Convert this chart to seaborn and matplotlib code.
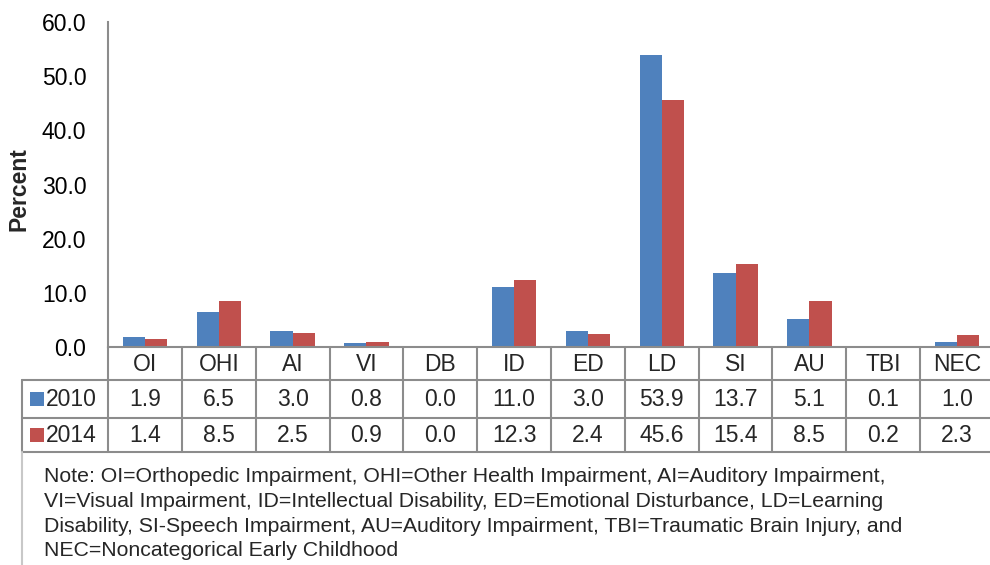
import matplotlib
matplotlib.use("Agg")
import matplotlib.pyplot as plt
from matplotlib.lines import Line2D
from matplotlib.patches import Rectangle
from matplotlib.transforms import blended_transform_factory
import pandas as pd
import seaborn as sns

# ---- data -------------------------------------------------------------
categories = ["OI", "OHI", "AI", "VI", "DB", "ID", "ED", "LD", "SI", "AU", "TBI", "NEC"]
years = ["2010", "2014"]
values_2010 = [1.9, 6.5, 3.0, 0.8, 0.0, 11.0, 3.0, 53.9, 13.7, 5.1, 0.1, 1.0]
values_2014 = [1.4, 8.5, 2.5, 0.9, 0.0, 12.3, 2.4, 45.6, 15.4, 8.5, 0.2, 2.3]
y_ticks = [0, 10, 20, 30, 40, 50, 60]
y_label = "Percent"
note_lines = [
    "Note: OI=Orthopedic Impairment, OHI=Other Health Impairment, AI=Auditory Impairment,",
    "VI=Visual Impairment, ID=Intellectual Disability, ED=Emotional Disturbance, LD=Learning",
    "Disability, SI-Speech Impairment, AU=Auditory Impairment, TBI=Traumatic Brain Injury, and",
    "NEC=Noncategorical Early Childhood",
]

series = {"2010": values_2010, "2014": values_2014}
palette = {"2010": "#4F81BD", "2014": "#C0504D"}

df = pd.DataFrame({
    "Category": categories * len(years),
    "Year": [y for y in years for _ in categories],
    "Percent": values_2010 + values_2014,
})

# ---- style ------------------------------------------------------------
sns.set_theme(style="white")
plt.rcParams["font.family"] = ["Liberation Sans", "DejaVu Sans"]

W, H = 990, 565
fig = plt.figure(figsize=(W / 100, H / 100), dpi=100)
fig.patch.set_facecolor("white")

def fx(px):
    return px / W

def fy(py):
    return 1 - py / H

# plot area in pixel units
left, right, top, bottom = 108, 994, 22, 347
ax = fig.add_axes([fx(left), fy(bottom), fx(right - left), (bottom - top) / H])

sns.barplot(data=df, x="Category", y="Percent", hue="Year", order=categories,
            hue_order=years, palette=palette, width=0.6, gap=0,
            linewidth=0, saturation=1, ax=ax, legend=False)

cell_fs = 16.5
ax.set_xlim(-0.5, len(categories) - 0.5)
ax.set_ylim(y_ticks[0], y_ticks[-1])
ax.set_yticks(y_ticks)
ax.set_yticklabels([f"{t:.1f}" for t in y_ticks], fontsize=cell_fs, color="#000000")
ax.tick_params(axis="y", length=0, pad=15.5)
ax.set_xticks([])
ax.set_xlabel("")
ax.set_ylabel("")
for s in ("top", "right"):
    ax.spines[s].set_visible(False)
grid_col = "#8C8C8C"
ax.spines["left"].set_color(grid_col)
ax.spines["left"].set_linewidth(1.5)
ax.spines["bottom"].set_color(grid_col)
ax.spines["bottom"].set_linewidth(1.5)
ax.set_facecolor("white")

fig.text(fx(19), fy(189), y_label, rotation=90, fontsize=16.5, fontweight="bold",
         ha="center", va="center")

# ---- data table beneath the axis ---------------------------------------
row_edges = [347, 380, 418, 452]
table_left = 22
tx = blended_transform_factory(ax.transData, fig.transFigure)

def hline(y, x0, x1, color=grid_col, lw=1.5):
    fig.add_artist(Line2D([fx(x0), fx(x1)], [fy(y), fy(y)], color=color, lw=lw))

def vline(x, y0, y1, color=grid_col, lw=1.5):
    fig.add_artist(Line2D([fx(x), fx(x)], [fy(y0), fy(y1)], color=color, lw=lw))

for y in row_edges[1:]:
    hline(y, table_left, W + 5)
vline(left, bottom, row_edges[-1])
vline(table_left, row_edges[1], row_edges[-1])
for i in range(1, len(categories) + 1):
    fig.add_artist(Line2D([i - 0.5, i - 0.5], [fy(row_edges[0]), fy(row_edges[-1])],
                          transform=tx, color=grid_col, lw=1.5))

for i, cat in enumerate(categories):
    fig.text(i, fy((row_edges[0] + row_edges[1]) / 2 + 1), cat, transform=tx,
             ha="center", va="center", fontsize=cell_fs)
    for r, yr in enumerate(years):
        yc = (row_edges[r + 1] + row_edges[r + 2]) / 2
        fig.text(i, fy(yc + 1), f"{series[yr][i]:.1f}", transform=tx,
                 ha="center", va="center", fontsize=cell_fs)

for r, yr in enumerate(years):
    yc = (row_edges[r + 1] + row_edges[r + 2]) / 2
    fig.add_artist(Rectangle((fx(30), fy(yc + 7)), fx(14), 14 / H,
                             facecolor=palette[yr], edgecolor="none"))
    fig.text(fx(46), fy(yc + 1), yr, ha="left", va="center", fontsize=cell_fs)

# ---- note box ----------------------------------------------------------
note_col = "#C8C8C8"
vline(table_left, row_edges[-1], H + 5, color=note_col, lw=1.5)
for k, line in enumerate(note_lines):
    fig.text(fx(44), fy(477 + k * 24.5), line, ha="left", va="center", fontsize=15.3)

fig.savefig("out.png", dpi=100, facecolor="white")
